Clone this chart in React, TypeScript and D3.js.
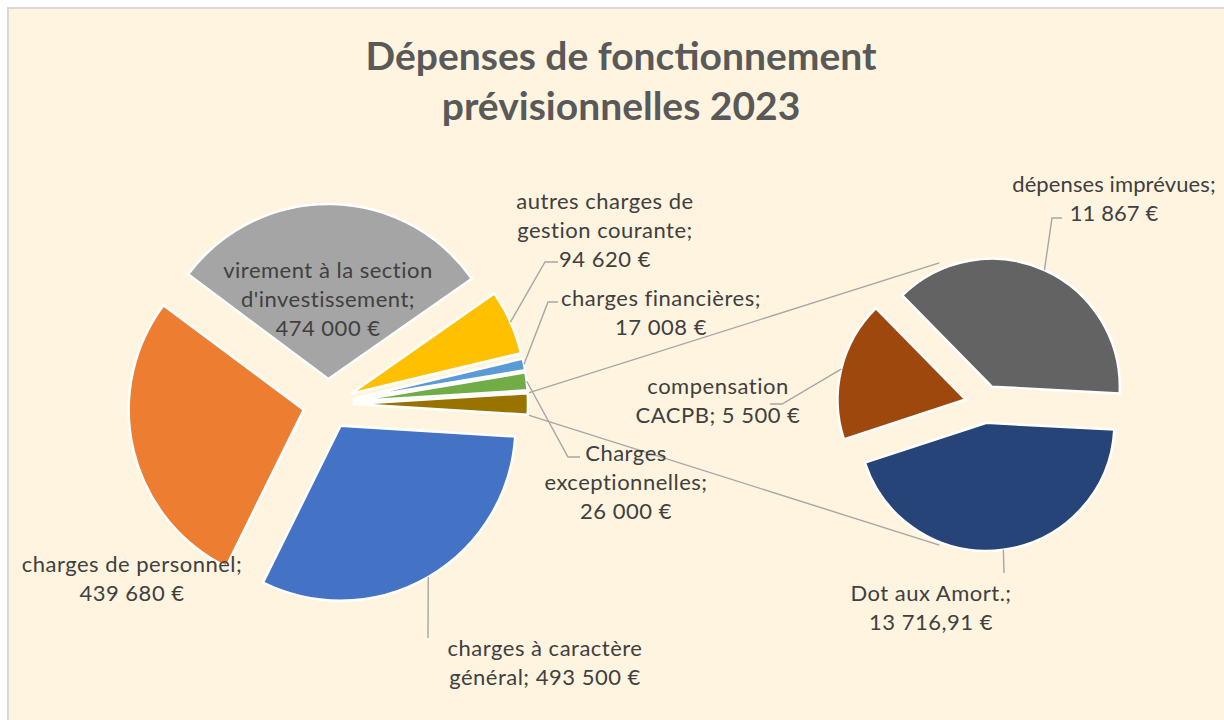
import React, { useLayoutEffect } from "react";
import * as d3 from "d3";

// ---------- data ----------
const mainCategories = [
  "charges à caractère général",
  "charges de personnel",
  "virement à la section d'investissement",
  "autres charges de gestion courante",
  "charges financières",
  "Charges exceptionnelles",
];
const mainValues = [493500, 439680, 474000, 94620, 17008, 26000];
const mainColors = ["#4472C4", "#ED7D31", "#A5A5A5", "#FFC000", "#5B9BD5", "#70AD47"];
const otherColor = "#997300";

const secondaryCategories = ["Dot aux Amort.", "compensation CACPB", "dépenses imprévues"];
const secondaryValues = [13716.91, 5500, 11867];
const secondaryColors = ["#264478", "#9E480E", "#636363"];

const titleLines = ["Dépenses de fonctionnement", "prévisionnelles 2023"];

// label line breaks (value appended to last line or as its own line)
const mainLabelLines = [
  ["charges à caractère", "général; {v}"],
  ["charges de personnel;", "{v}"],
  ["virement à la section", "d'investissement;", "{v}"],
  ["autres charges de", "gestion courante;", "{v}"],
  ["charges financières;", "{v}"],
  ["Charges", "exceptionnelles;", "{v}"],
];
const secondaryLabelLines = [
  ["Dot aux Amort.;", "{v}"],
  ["compensation", "CACPB; {v}"],
  ["dépenses imprévues;", "{v}"],
];

// ---------- layout ----------
const W = 1224;
const H = 720;
const C1 = { x: 328, y: 404 };
const R1 = 175;
const E1 = 25;
const C2 = { x: 984, y: 404 };
const R2 = 128;
const E2 = 19;
const secondaryStart = (93 * Math.PI) / 180;

// label layout: centre x, centre y of first line, leader elbow points (page coords)
const mainLabelLayout = [
  { x: 545, y: 647, ls: 0.5, leader: [[428, 638]] },
  { x: 132, y: 563, ls: 0.5, leader: [] },
  { x: 328, y: 269, ls: 0.5, leader: [] },
  { x: 605, y: 200, ls: 0.5, leader: [[545, 262], [558, 262]] },
  { x: 661, y: 297, ls: 0.5, leader: [[548, 302], [558, 302]] },
  { x: 626, y: 452, ls: 0.5, leader: [[568, 457], [580, 457]] },
];
const secondaryLabelLayout = [
  { x: 931, y: 592, ls: 0.5, leader: [[1004, 573]] },
  { x: 718, y: 385, ls: 0.5, leader: [[782, 404], [770, 404]] },
  { x: 1114, y: 183, ls: 0.1, leader: [[1052, 218], [1062, 218]] },
];
const LINE_H = 29;

const frLocale = d3.formatLocale({
  decimal: ",",
  thousands: " ",
  grouping: [3],
  currency: ["", " €"],
});
const fmtInt = frLocale.format(",.0f");
const fmtDec = frLocale.format(",.2f");
const fmt = (v: number) => (Number.isInteger(v) ? fmtInt(v) : fmtDec(v)) + " €";

const FONT = "Lato, 'Open Sans', sans-serif";
const TEXT = "#404040";
const LEADER = "#A6A6A6";

function dir(a: number) {
  return [Math.sin(a), -Math.cos(a)];
}

export default function App() {
  useLayoutEffect(() => {
    document.body.style.margin = "0";
    document.body.style.overflow = "hidden";
  }, []);

  const otherTotal = d3.sum(secondaryValues);
  const mainAll = [...mainValues, otherTotal];
  const total = d3.sum(mainAll);
  const otherAngle = (2 * Math.PI * otherTotal) / total;
  const start1 = Math.PI / 2 + otherAngle / 2;

  const pie1 = d3.pie<number>().sort(null).value((d) => d).startAngle(start1).endAngle(start1 + 2 * Math.PI);
  const arcs1 = pie1(mainAll);
  const pie2 = d3
    .pie<number>()
    .sort(null)
    .value((d) => d)
    .startAngle(secondaryStart)
    .endAngle(secondaryStart + 2 * Math.PI);
  const arcs2 = pie2(secondaryValues);

  const arc1 = d3.arc<d3.PieArcDatum<number>>().innerRadius(0).outerRadius(R1);
  const arc2 = d3.arc<d3.PieArcDatum<number>>().innerRadius(0).outerRadius(R2);

  const off = (a: d3.PieArcDatum<number>, e: number) => {
    const m = (a.startAngle + a.endAngle) / 2;
    const [dx, dy] = dir(m);
    return [dx * e, dy * e];
  };

  // connector lines from split slice to secondary pie (tangents)
  const other = arcs1[arcs1.length - 1];
  const [ox, oy] = off(other, E1);
  const vx = C1.x + ox;
  const vy = C1.y + oy;
  const corners = [other.startAngle, other.endAngle].map((a) => {
    const [dx, dy] = dir(a);
    return [vx + dx * R1, vy + dy * R1];
  });
  const Rt = R2 + E2 + 1;
  const tangent = (P: number[], sign: number) => {
    const ux0 = P[0] - C2.x;
    const uy0 = P[1] - C2.y;
    const d = Math.hypot(ux0, uy0);
    const ux = ux0 / d;
    const uy = uy0 / d;
    const b = sign * Math.acos(Rt / d);
    const tx = ux * Math.cos(b) - uy * Math.sin(b);
    const ty = ux * Math.sin(b) + uy * Math.cos(b);
    return [C2.x + tx * Rt, C2.y + ty * Rt];
  };
  const upper = corners[0][1] < corners[1][1] ? corners[0] : corners[1];
  const lower = corners[0][1] < corners[1][1] ? corners[1] : corners[0];
  const tUp = [tangent(upper, 1), tangent(upper, -1)].sort((a, b) => a[1] - b[1])[0];
  const tLo = [tangent(lower, 1), tangent(lower, -1)].sort((a, b) => b[1] - a[1])[0];

  const anchorPoint = (a: d3.PieArcDatum<number>, C: { x: number; y: number }, e: number, R: number) => {
    const m = (a.startAngle + a.endAngle) / 2;
    const [dx, dy] = dir(m);
    return [C.x + dx * (e + R), C.y + dy * (e + R)];
  };

  const renderLabel = (
    lines: string[],
    value: number,
    lay: { x: number; y: number; ls: number; leader: number[][] },
    anchor: number[] | null,
    key: string
  ) => (
    <g key={key}>
      {anchor && lay.leader.length > 0 && (
        <polyline
          points={[anchor, ...lay.leader].map((p) => p.join(",")).join(" ")}
          fill="none"
          stroke={LEADER}
          strokeWidth={1.4}
        />
      )}
      <text fontFamily={FONT} fontSize={22} letterSpacing={lay.ls} fill={TEXT} textAnchor="middle">
        {lines.map((l, i) => (
          <tspan key={i} x={lay.x} y={lay.y + i * LINE_H} dominantBaseline="central">
            {l.replace("{v}", fmt(value))}
          </tspan>
        ))}
      </text>
    </g>
  );

  return (
    <svg width={W} height={H} style={{ display: "block" }}>
      <rect x={0} y={0} width={W} height={H} fill="#FFFFFF" />
      <rect x={8} y={8} width={W + 20} height={H + 20} fill="#FFF4DF" stroke="#D9D9D9" strokeWidth={2} />
      {titleLines.map((t, i) => (
        <text
          key={t}
          x={621}
          y={70 + i * 50}
          textAnchor="middle"
          fontFamily={FONT}
          fontWeight="bold"
          fontSize={39}
          fill="#595959"
        >
          {t}
        </text>
      ))}

      {/* connector lines */}
      <line x1={upper[0]} y1={upper[1]} x2={tUp[0]} y2={tUp[1]} stroke={LEADER} strokeWidth={1.4} />
      <line x1={lower[0]} y1={lower[1]} x2={tLo[0]} y2={tLo[1]} stroke={LEADER} strokeWidth={1.4} />

      {/* main pie */}
      <g>
        {arcs1.map((a, i) => {
          const [dx, dy] = off(a, E1);
          return (
            <path
              key={i}
              d={arc1(a) || ""}
              transform={`translate(${C1.x + dx},${C1.y + dy})`}
              fill={i < mainColors.length ? mainColors[i] : otherColor}
              stroke="#FFFFFF"
              strokeWidth={2.5}
            />
          );
        })}
      </g>

      {/* secondary pie */}
      <g>
        {arcs2.map((a, i) => {
          const [dx, dy] = off(a, E2);
          return (
            <path
              key={i}
              d={arc2(a) || ""}
              transform={`translate(${C2.x + dx},${C2.y + dy})`}
              fill={secondaryColors[i]}
              stroke="#FFFFFF"
              strokeWidth={2.5}
            />
          );
        })}
      </g>

      {/* labels */}
      {mainCategories.map((c, i) =>
        renderLabel(mainLabelLines[i], mainValues[i], mainLabelLayout[i], anchorPoint(arcs1[i], C1, E1, R1), "m" + i)
      )}
      {secondaryCategories.map((c, i) =>
        renderLabel(
          secondaryLabelLines[i],
          secondaryValues[i],
          secondaryLabelLayout[i],
          anchorPoint(arcs2[i], C2, E2, R2),
          "s" + i
        )
      )}
    </svg>
  );
}
